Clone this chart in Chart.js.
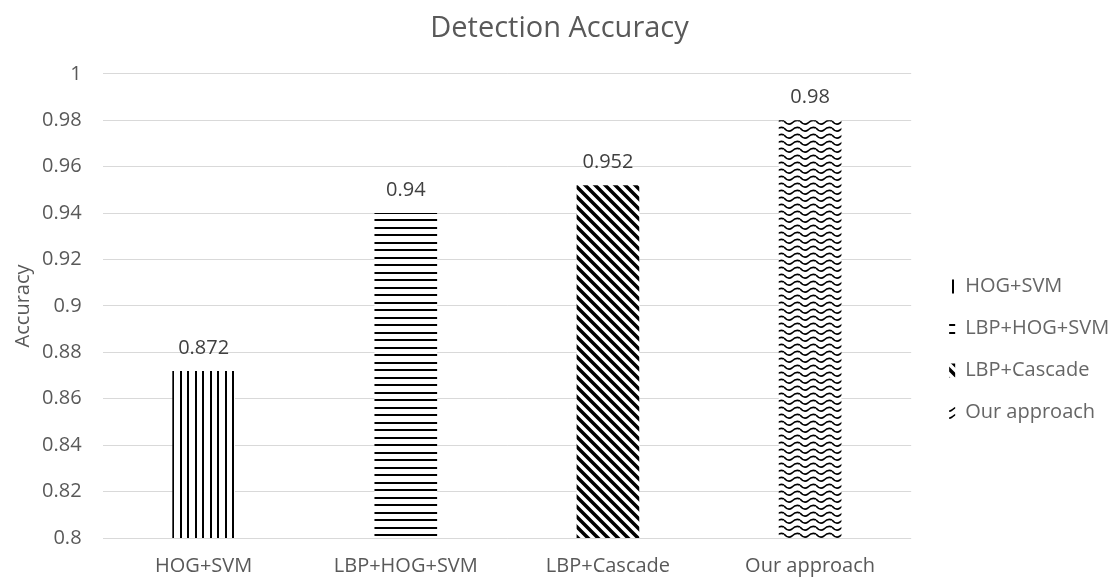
<!DOCTYPE html>
<html>
<head>
<meta charset="utf-8">
<script src="https://cdn.jsdelivr.net/npm/chart.js@4"></script>
<style>
  body { margin: 0; background: #fff; }
</style>
</head>
<body>
<canvas id="accChart" width="1120" height="583"></canvas>
<script>
var methods = ['HOG+SVM', 'LBP+HOG+SVM', 'LBP+Cascade', 'Our approach'];
var accuracy = [0.872, 0.94, 0.952, 0.98];
var valueLabels = ['0.872', '0.94', '0.952', '0.98'];

var fontFamily = '"Open Sans", "Noto Sans", sans-serif';
var textColor = '#595959';

// pattern tiles for each bar (size first: resizing a canvas resets its context)
function makePattern(kind) {
    var c = document.createElement('canvas');
    var g;
    if (kind === 'vertical') {
        c.width = 15; c.height = 15;
        g = c.getContext('2d');
        g.fillStyle = '#fff';
        g.fillRect(0, 0, 15, 15);
        g.fillStyle = '#000';
        g.fillRect(0, 0, 2, 15);
        g.fillRect(7, 0, 2, 15);
    } else if (kind === 'horizontal') {
        c.width = 15; c.height = 15;
        g = c.getContext('2d');
        g.fillStyle = '#fff';
        g.fillRect(0, 0, 15, 15);
        g.fillStyle = '#000';
        g.fillRect(0, 2, 15, 2);
        g.fillRect(0, 9, 15, 2);
    } else if (kind === 'diagonal') {
        c.width = 10; c.height = 10;
        g = c.getContext('2d');
        g.fillStyle = '#fff';
        g.fillRect(0, 0, 10, 10);
        g.strokeStyle = '#000';
        g.lineWidth = 3.5;
        g.beginPath();
        g.moveTo(-2, -2); g.lineTo(12, 12);
        g.moveTo(-12, -2); g.lineTo(2, 12);
        g.moveTo(8, -2); g.lineTo(22, 12);
        g.stroke();
    } else {
        c.width = 16; c.height = 7;
        g = c.getContext('2d');
        g.fillStyle = '#fff';
        g.fillRect(0, 0, 16, 7);
        g.strokeStyle = '#000';
        g.lineWidth = 1.6;
        g.beginPath();
        g.moveTo(0, 2);
        g.quadraticCurveTo(4, 7, 8, 4);
        g.quadraticCurveTo(12, 0, 16, 2);
        g.stroke();
    }
    return g.createPattern(c, 'repeat');
}

var patterns = [makePattern('vertical'), makePattern('horizontal'), makePattern('diagonal'), makePattern('wave')];

var valueLabelPlugin = {
    id: 'valueLabels',
    afterDatasetsDraw: function (chart) {
        var ctx = chart.ctx;
        var meta = chart.getDatasetMeta(0);
        ctx.save();
        ctx.font = '20px ' + fontFamily;
        ctx.fillStyle = '#404040';
        ctx.textAlign = 'center';
        ctx.textBaseline = 'alphabetic';
        meta.data.forEach(function (bar, i) {
            ctx.fillText(valueLabels[i], bar.x, bar.y - 17);
        });
        ctx.restore();
    }
};

new Chart(document.getElementById('accChart'), {
    type: 'bar',
    data: {
        labels: methods,
        datasets: [{
            label: 'Accuracy',
            data: accuracy,
            backgroundColor: patterns,
            borderWidth: 0,
            categoryPercentage: 1,
            barPercentage: 0.31
        }]
    },
    plugins: [valueLabelPlugin],
    options: {
        responsive: false,
        animation: false,
        layout: { padding: { top: 6, left: 8, right: 9, bottom: 0 } },
        plugins: {
            title: {
                display: true,
                text: 'Detection Accuracy',
                color: textColor,
                font: { family: fontFamily, size: 29, weight: 'normal' },
                padding: { top: 5, bottom: 28 }
            },
            legend: {
                position: 'right',
                // empty title only pushes the centred legend items down
                title: { display: true, text: '', padding: { top: 0, bottom: 62 }, font: { size: 40 } },
                labels: {
                    color: textColor,
                    font: { family: fontFamily, size: 20 },
                    boxWidth: 6,
                    boxHeight: 14,
                    padding: 22,
                    generateLabels: function (chart) {
                        return methods.map(function (m, i) {
                            return {
                                text: m,
                                fillStyle: patterns[i],
                                strokeStyle: 'rgba(0,0,0,0)',
                                lineWidth: 0,
                                index: i
                            };
                        });
                    }
                },
                onClick: function () {}
            },
            tooltip: { enabled: false }
        },
        scales: {
            x: {
                grid: { display: false, tickLength: 11 },
                border: { display: false },
                ticks: {
                    color: textColor,
                    font: { family: fontFamily, size: 20 },
                    padding: 5
                }
            },
            y: {
                min: 0.8,
                max: 1,
                border: { display: false },
                grid: { color: '#d9d9d9', tickLength: 16, tickColor: 'rgba(0,0,0,0)' },
                ticks: {
                    stepSize: 0.02,
                    color: textColor,
                    font: { family: fontFamily, size: 20 },
                    padding: 5,
                    callback: function (v) { return String(Number(v.toFixed(2))); }
                },
                title: {
                    display: true,
                    text: 'Accuracy',
                    color: textColor,
                    font: { family: fontFamily, size: 20 },
                    padding: { top: 3, bottom: 2 }
                }
            },
            // blank axis that leaves a gap between the plot and the legend
            gap: {
                type: 'linear',
                position: 'right',
                grid: { display: false, drawTicks: false },
                border: { display: false },
                ticks: { display: false },
                title: { display: true, text: ' ', font: { size: 10 }, padding: { top: 2, bottom: 2 } }
            }
        }
    }
});
</script>
</body>
</html>
